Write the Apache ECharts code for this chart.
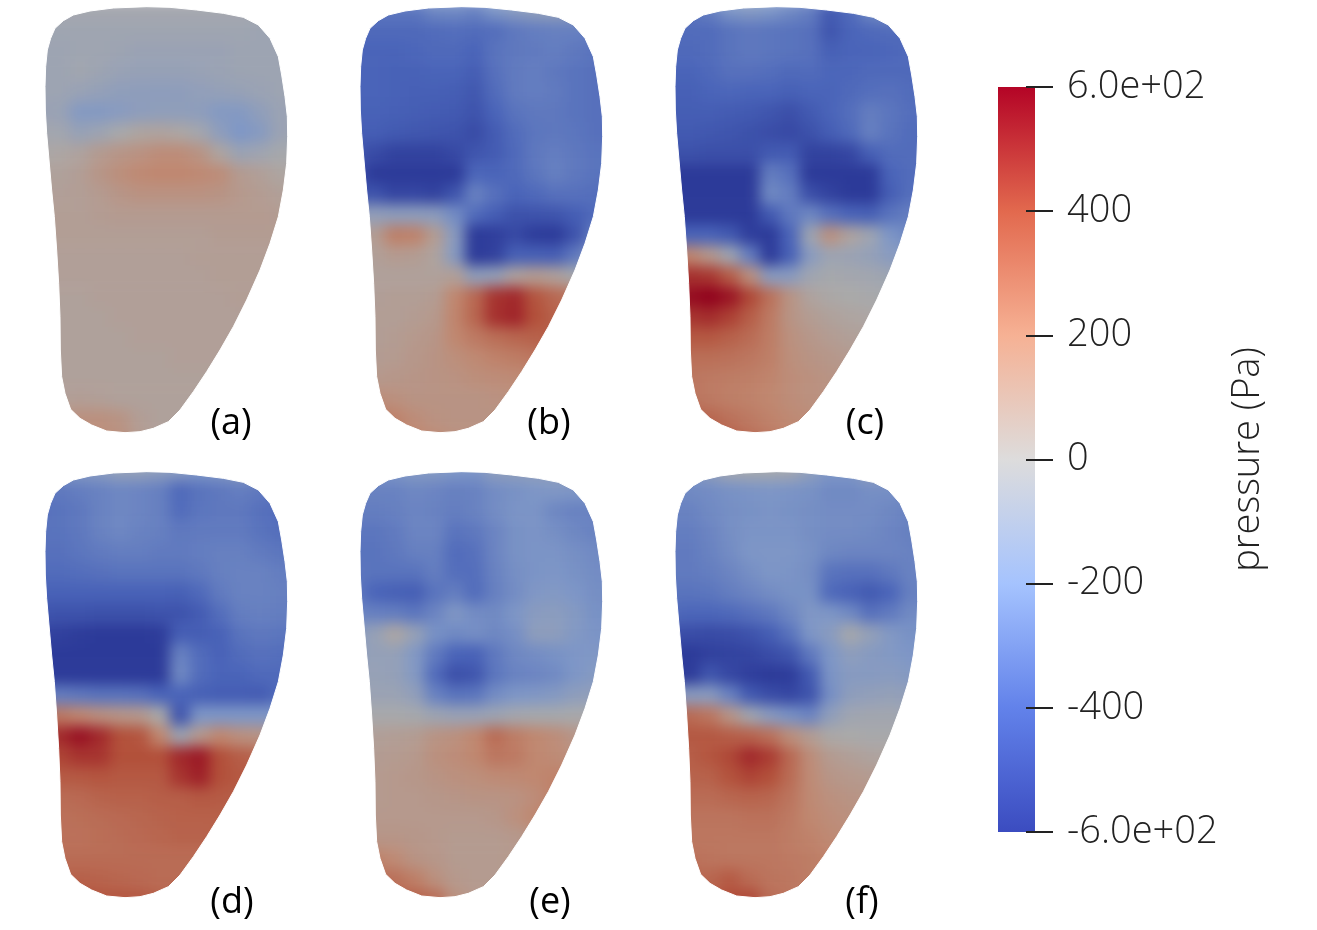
<!DOCTYPE html>
<html><head><meta charset="utf-8">
<script src="https://cdn.jsdelivr.net/npm/echarts@6/dist/echarts.min.js"></script>
<style>
html,body{margin:0;padding:0;background:#fff}
#c{width:1317px;height:930px}
canvas[data-zr-dom-id="zr_0"]{filter:blur(7px) brightness(.77) saturate(1.06)}
</style></head><body><div id="c"></div>
<script>
const tickValues=[-600,-400,-200,0,200,400,600];
const panelNames=['(a)','(b)','(c)','(d)','(e)','(f)'];
const colorStops=['#3b4cc0','#6282ea','#a5c3fe','#dddcdc','#f6b194','#e2694e','#b40426'];
const colorbarRange=[[-600,600]];
const outlineLeft=[[350,20],[250,24],[180,33],[130,45],[100,62],[75,85],[62,115],[52,150],[47,200],[45,260],[46,330],[50,400],[57,480],[65,570],[73,650],[80,750],[86,850],[90,950],[91,1050],[95,1130],[105,1180],[122,1228],[150,1255],[185,1275],[230,1293],[285,1298]];
const outlineRight=[[350,20],[420,22],[500,30],[580,40],[640,52],[685,75],[720,115],[745,170],[755,225],[765,290],[772,350],[773,410],[770,490],[760,570],[745,650],[720,730],[690,810],[650,900],[610,980],[570,1050],[530,1115],[490,1175],[450,1230],[415,1265],[370,1285],[330,1295],[285,1298]];
const panelA=[
[-30,-30,-30,-30,-30,-30,-30,-30,-30,-30,-30,-30,-30,-30],
[-50,-50,-50,-50,-50,-50,-50,-50,-50,-50,-50,-60,-60,-60],
[-60,-60,-50,-50,-60,-70,-70,-70,-70,-70,-60,-60,-60,-60],
[-60,-60,-40,-60,-80,-90,-90,-90,-80,-70,-60,-60,-60,-60],
[-60,-60,-80,-100,-120,-125,-130,-125,-110,-100,-90,-70,-60,-60],
[-70,-80,-170,-170,-150,-130,-120,-120,-130,-170,-170,-120,-70,-60],
[-30,-40,-90,-60,-10,30,40,20,-30,-130,-200,-160,-70,-50],
[10,20,40,90,120,140,170,170,130,30,-70,-50,-20,-20],
[50,50,70,120,160,190,200,200,190,170,90,60,30,30],
[60,60,70,90,120,140,140,140,140,130,100,80,60,60],
[70,70,70,80,90,90,90,90,90,90,90,90,80,80],
[70,70,70,70,70,70,70,70,70,80,80,80,80,80],
[60,60,60,60,60,60,60,60,70,70,70,70,70,70],
[60,60,60,60,60,60,60,60,60,70,70,70,70,70],
[50,50,50,60,60,60,60,60,60,60,70,70,70,70],
[50,50,50,50,60,60,60,60,60,60,60,60,60,60],
[50,50,50,50,50,60,60,60,60,60,60,60,60,60],
[50,50,50,50,50,50,50,60,60,60,60,60,60,60],
[50,50,50,50,50,50,50,50,50,50,50,50,50,50],
[60,60,70,60,50,50,50,50,50,50,50,50,50,50],
[140,140,150,150,130,70,50,50,50,50,50,50,50,50],
[160,160,170,170,150,90,50,50,50,50,50,50,50,50]];
const panelB=[
[-300,-330,-330,-330,-260,-250,-280,-200,-150,-120,-100,-120,-200,-200],
[-380,-380,-380,-380,-370,-360,-370,-360,-320,-300,-290,-290,-300,-300],
[-400,-400,-400,-390,-380,-380,-400,-340,-320,-310,-300,-320,-340,-340],
[-400,-400,-410,-410,-400,-400,-430,-350,-310,-300,-320,-340,-350,-350],
[-400,-400,-410,-420,-420,-430,-460,-370,-310,-300,-310,-340,-350,-350],
[-410,-410,-420,-430,-440,-450,-480,-400,-340,-320,-320,-340,-350,-350],
[-430,-430,-450,-460,-470,-480,-520,-440,-370,-330,-320,-330,-350,-350],
[-470,-520,-560,-560,-560,-530,-470,-440,-380,-320,-300,-320,-340,-340],
[-500,-600,-600,-600,-600,-600,-390,-400,-380,-330,-290,-320,-340,-340],
[-470,-480,-550,-540,-560,-470,-280,-350,-400,-380,-350,-350,-360,-360],
[-100,-110,-130,-130,-140,-240,-370,-430,-490,-480,-470,-430,-380,-380],
[60,80,230,220,80,-150,-600,-580,-530,-590,-600,-480,-300,-300],
[50,60,90,80,40,-160,-600,-570,-420,-420,-430,-320,-150,-150],
[50,50,50,50,50,60,-120,-100,40,80,50,-20,-30,-30],
[60,60,70,70,80,200,310,470,500,380,310,260,200,200],
[60,70,70,80,100,210,320,480,510,400,340,300,300,300],
[60,70,80,100,120,200,250,290,320,340,350,350,350,350],
[80,80,90,110,130,160,190,220,240,260,300,300,300,300],
[100,100,110,120,130,140,160,170,180,190,200,200,200,200],
[160,170,150,130,130,130,130,140,150,150,150,150,150,150],
[260,260,220,170,140,130,130,130,140,140,140,140,140,140],
[260,260,240,210,180,150,140,140,140,140,140,140,140,140]];
const panelC=[
[-340,-340,-300,-200,-170,-200,-250,-300,-450,-380,-250,-170,-170,-170],
[-370,-370,-370,-340,-320,-330,-340,-350,-470,-400,-380,-370,-370,-370],
[-380,-380,-370,-340,-320,-330,-340,-350,-420,-400,-400,-390,-380,-380],
[-400,-400,-380,-350,-350,-360,-380,-370,-390,-390,-380,-380,-380,-380],
[-420,-420,-400,-390,-400,-400,-420,-400,-400,-380,-360,-350,-370,-370],
[-430,-430,-430,-440,-450,-470,-500,-450,-400,-360,-300,-330,-360,-360],
[-450,-450,-460,-470,-490,-510,-530,-490,-430,-380,-290,-340,-370,-370],
[-490,-490,-500,-500,-500,-450,-440,-560,-560,-540,-420,-370,-370,-370],
[-600,-600,-600,-600,-600,-300,-350,-600,-600,-600,-600,-400,-370,-370],
[-600,-600,-600,-600,-600,-250,-300,-500,-560,-600,-600,-430,-360,-360],
[-600,-600,-600,-600,-600,-450,-320,-260,-350,-400,-420,-340,-300,-300],
[-400,-400,-400,-450,-580,-600,-400,-60,150,40,-50,-200,-260,-260],
[200,200,100,-50,-300,-600,-420,-150,-60,-70,-100,-150,-160,-160],
[450,480,460,350,150,-150,-150,-50,-20,-30,-40,-60,-60,-60],
[560,570,600,550,420,280,130,40,10,0,-10,-20,-20,-20],
[470,470,490,440,350,250,130,80,50,30,20,20,20,20],
[370,370,370,340,300,240,150,110,80,60,50,50,50,50],
[290,290,290,280,260,230,160,130,110,90,90,90,90,90],
[260,260,250,240,230,210,170,150,130,120,120,120,120,120],
[270,270,250,230,220,200,170,150,140,130,130,130,130,130],
[350,350,320,280,250,220,190,170,150,140,140,140,140,140],
[380,380,370,350,300,260,220,190,170,150,150,150,150,150]];
const panelD=[
[-170,-170,-170,-150,-100,-100,-130,-150,-200,-180,-130,-130,-130,-130],
[-320,-320,-300,-280,-260,-270,-290,-380,-340,-320,-300,-320,-330,-330],
[-350,-340,-320,-280,-260,-270,-290,-370,-330,-320,-320,-350,-370,-370],
[-340,-340,-320,-280,-260,-280,-290,-320,-310,-310,-310,-340,-360,-360],
[-350,-350,-330,-310,-300,-300,-310,-310,-300,-290,-290,-310,-330,-330],
[-370,-370,-360,-350,-340,-340,-340,-340,-320,-290,-280,-280,-300,-300],
[-410,-410,-410,-410,-410,-410,-410,-420,-380,-310,-280,-280,-290,-290],
[-470,-480,-480,-490,-490,-490,-480,-480,-440,-360,-300,-290,-300,-300],
[-560,-570,-590,-600,-600,-600,-590,-430,-430,-410,-340,-320,-330,-330],
[-600,-600,-600,-600,-600,-600,-600,-280,-370,-410,-370,-350,-360,-360],
[-600,-600,-600,-600,-600,-600,-600,-250,-370,-400,-400,-380,-380,-380],
[-300,-300,-320,-340,-340,-350,-400,-400,-420,-430,-430,-440,-380,-380],
[250,250,200,150,120,100,0,-480,-200,-200,-200,-200,-200,-200],
[420,500,560,500,400,380,200,-60,100,200,150,130,100,100],
[400,430,470,470,400,400,400,500,540,400,350,320,300,300],
[360,360,370,380,370,370,370,470,520,400,370,360,350,350],
[300,300,310,330,340,340,350,350,370,360,350,340,340,340],
[280,280,290,300,310,320,330,340,340,340,340,340,340,340],
[280,280,280,290,300,310,320,330,330,340,340,340,340,340],
[300,300,300,300,300,300,300,300,300,310,310,310,310,310],
[340,340,340,330,320,310,300,300,300,310,310,310,310,310],
[400,400,400,380,380,370,340,330,320,320,320,320,320,320]];
const panelE=[
[-200,-200,-200,-170,-170,-200,-210,-130,-120,-110,-100,-50,-50,-50],
[-280,-280,-280,-260,-270,-290,-280,-240,-220,-200,-190,-200,-200,-200],
[-300,-300,-290,-270,-280,-300,-280,-240,-210,-210,-260,-280,-280,-280],
[-330,-330,-310,-270,-270,-340,-320,-270,-220,-210,-230,-260,-280,-280],
[-340,-340,-320,-290,-290,-370,-350,-270,-220,-210,-210,-230,-250,-250],
[-330,-340,-340,-340,-300,-360,-360,-280,-230,-210,-200,-220,-240,-240],
[-320,-400,-420,-430,-340,-300,-370,-290,-240,-190,-180,-200,-230,-230],
[-270,-290,-300,-330,-270,-190,-240,-250,-200,-150,-140,-170,-220,-220],
[-150,-90,20,-90,-220,-250,-230,-260,-230,-130,-130,-180,-210,-210],
[-110,-100,-100,-180,-310,-400,-410,-320,-260,-240,-220,-200,-190,-190],
[-90,-90,-100,-170,-370,-500,-470,-330,-280,-270,-250,-200,-170,-170],
[-70,-70,-70,-110,-280,-340,-330,-240,-200,-190,-170,-130,-110,-110],
[-10,-10,-10,-20,-60,-80,-80,-60,-30,-20,-20,-10,-10,-10],
[60,60,70,80,130,150,200,300,240,200,170,120,80,80],
[80,80,90,100,150,170,200,260,250,200,180,150,150,150],
[90,90,100,110,130,150,160,180,190,200,220,230,230,230],
[90,90,100,100,110,120,130,130,140,170,230,260,260,260],
[100,100,100,100,100,100,100,110,150,200,270,270,270,270],
[120,120,120,110,100,90,90,90,100,120,120,120,120,120],
[220,220,180,130,110,90,90,90,100,100,100,100,100,100],
[300,300,280,230,150,100,90,90,100,100,100,100,100,100],
[340,340,340,340,300,150,100,100,100,100,100,100,100,100]];
const panelF=[
[-200,-200,-120,-30,-20,-20,-30,-120,-200,-200,-100,-100,-100,-100],
[-250,-250,-240,-220,-210,-200,-210,-220,-250,-250,-230,-230,-240,-240],
[-280,-280,-250,-230,-220,-210,-220,-230,-240,-240,-240,-260,-280,-280],
[-300,-300,-270,-230,-210,-210,-210,-230,-240,-240,-250,-270,-290,-290],
[-310,-310,-280,-240,-200,-200,-200,-220,-260,-270,-270,-270,-280,-280],
[-310,-310,-300,-270,-230,-200,-210,-230,-340,-350,-350,-320,-280,-280],
[-340,-340,-330,-300,-270,-240,-220,-220,-380,-410,-450,-400,-290,-290],
[-380,-390,-390,-380,-350,-320,-260,-190,-200,-250,-350,-310,-250,-250],
[-500,-510,-520,-510,-480,-430,-340,-200,-150,-20,-100,-180,-220,-220],
[-600,-600,-570,-560,-550,-510,-470,-320,-200,-130,-160,-180,-200,-200],
[-600,-600,-470,-540,-580,-600,-590,-450,-210,-160,-160,-150,-170,-170],
[-150,-150,-150,-280,-450,-510,-540,-480,-230,-130,-110,-100,-110,-110],
[300,300,260,120,-40,-150,-220,-270,-120,-50,-40,-40,-50,-50],
[360,370,370,350,330,280,160,80,10,0,-10,-10,-10,-10],
[340,350,380,420,500,450,310,170,90,60,40,30,30,30],
[320,330,340,390,430,400,300,180,120,100,90,80,80,80],
[300,300,300,320,330,320,270,190,150,130,120,120,120,120],
[270,270,270,270,280,280,250,200,170,150,140,140,140,140],
[260,260,260,260,260,260,240,220,190,170,170,170,170,170],
[280,280,270,260,260,260,250,240,220,210,200,200,200,200],
[320,320,320,360,300,270,260,240,220,200,200,200,200,200],
[350,350,350,410,420,300,270,240,220,200,200,200,200,200]];
const panels=[panelA,panelB,panelC,panelD,panelE,panelF];
const windows=[[30,0],[345,0],[660,0],[30,460],[345,460],[660,460]];
const labelPos=[[231,406],[549,406],[865,406],[232,885],[550,885],[862,885]];
const cols=panelA[0].map((_,i)=>'c'+i), rows=panelA.map((_,i)=>'r'+i);

const grid=[],xAxis=[],yAxis=[],series=[],title=[];
panels.forEach((p,i)=>{
  const [wx,wy]=windows[i];
  grid.push({left:wx,top:wy,width:280,height:450});
  xAxis.push({type:'category',gridIndex:i,data:cols,show:false});
  yAxis.push({type:'category',gridIndex:i,data:rows,inverse:true,show:false});
  series.push({type:'heatmap',xAxisIndex:i,yAxisIndex:i,zlevel:0,progressive:0,animation:false,silent:true,
    data:p.flatMap((r,y)=>r.map((v,x)=>[x,y,v]))});
  title.push({text:panelNames[i],left:labelPos[i][0],top:labelPos[i][1],zlevel:1,padding:0,
    textAlign:'center',textStyle:{fontFamily:'Open Sans',fontSize:36,fontWeight:'normal',color:'#000'}});
});
panels.forEach((p,i)=>{
  const second=i>=3;
  xAxis.push({type:'value',gridIndex:i,min:0,max:840,show:false,splitLine:{show:false}});
  yAxis.push({type:'value',gridIndex:i,min:second?-15:0,max:second?1335:1350,inverse:true,show:false,splitLine:{show:false}});
  const ax=6+i;
  const yTop=second?-60:-80, yBot=second?1420:1395;
  series.push({type:'custom',xAxisIndex:ax,yAxisIndex:ax,zlevel:1,silent:true,animation:false,clip:false,
    data:[[0],[1]],
    renderItem:(params,api)=>{
      const left=params.dataIndex===0;
      const edge=left?outlineLeft:outlineRight, ox=left?-75:915;
      const pts=[[ox,yTop],[350,yTop]].concat(edge,[[285,yBot],[ox,yBot]]).map(q=>api.coord(q));
      return {type:'polygon',shape:{points:pts},style:{fill:'#fff',stroke:'#fff',lineWidth:1}};
    }});
});
// colourbar and its tick axis
grid.push({left:1026,top:87,width:1,height:745});
xAxis.push({type:'value',gridIndex:6,show:false,min:0,max:1});
yAxis.push({type:'value',gridIndex:6,position:'right',min:-600,max:600,interval:200,zlevel:2,
  axisLine:{show:false},splitLine:{show:false},
  axisTick:{show:true,length:27,lineStyle:{color:'#222',width:2}},
  axisLabel:{show:true,margin:40,fontFamily:'Open Sans',fontWeight:300,fontSize:38,color:'#222',
    formatter:v=>Math.abs(v)===600?(v<0?'-6.0e+02':'6.0e+02'):String(v)},
  name:'pressure (Pa)',nameLocation:'middle',nameRotate:90,nameGap:202,
  nameTextStyle:{fontFamily:'Open Sans',fontWeight:300,fontSize:38,color:'#222'}});
series.push({type:'custom',xAxisIndex:12,yAxisIndex:12,zlevel:1,silent:true,animation:false,clip:false,
  data:colorbarRange,
  renderItem:(params,api)=>{
    const a=api.coord([-28,api.value(1)]), b=api.coord([9,api.value(0)]);
    return {type:'rect',shape:{x:a[0],y:a[1],width:b[0]-a[0],height:b[1]-a[1]},
      style:{fill:new echarts.graphic.LinearGradient(0,1,0,0,colorStops.map((c,i)=>({offset:i/(colorStops.length-1),color:c})))}};
  }});

const chart=echarts.init(document.getElementById('c'),null,{renderer:'canvas'});
chart.setOption({animation:false,grid,xAxis,yAxis,series,title,
  visualMap:{type:'continuous',show:false,min:-600,max:600,seriesIndex:[0,1,2,3,4,5],dimension:2,
    inRange:{color:colorStops}}});
</script></body></html>
